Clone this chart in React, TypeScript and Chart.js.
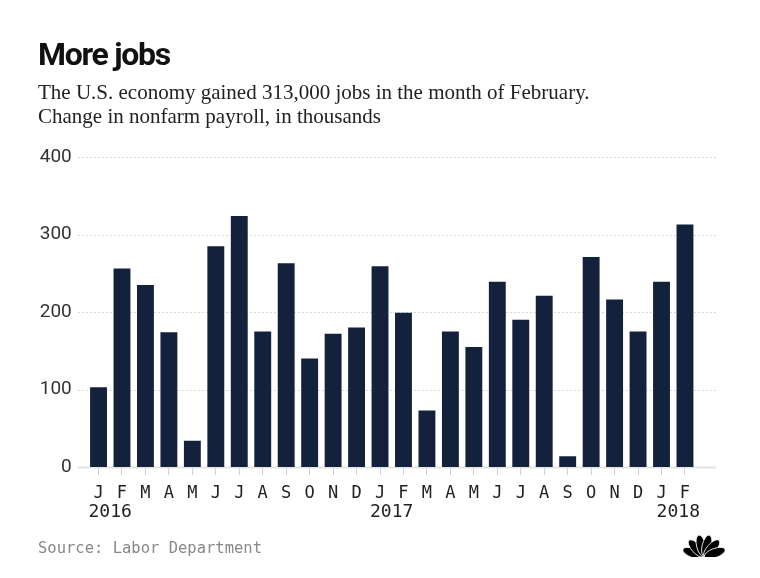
import React, { useEffect, useRef } from 'react';
import { Chart, registerables } from 'chart.js';

Chart.register(...registerables);

const months = ['J', 'F', 'M', 'A', 'M', 'J', 'J', 'A', 'S', 'O', 'N', 'D', 'J', 'F', 'M', 'A', 'M', 'J', 'J', 'A', 'S', 'O', 'N', 'D', 'J', 'F'];
const payrollChange = [103, 256, 235, 174, 34, 285, 324, 175, 263, 140, 172, 180, 259, 199, 73, 175, 155, 239, 190, 221, 14, 271, 216, 175, 239, 313];
const yearLabels = ['2016', '2017', '2018'];
const yearIndex = [0, 12, 25];
const yTicks = [0, 100, 200, 300, 400];

const title = 'More jobs';
const subtitle1 = 'The U.S. economy gained 313,000 jobs in the month of February.';
const subtitle2 = 'Change in nonfarm payroll, in thousands';
const source = 'Source: Labor Department';

const decor = {
  id: 'decor',
  beforeDatasetsDraw(chart: any) {
    const { ctx, chartArea, scales } = chart;
    const y = scales.y;
    ctx.save();
    yTicks.forEach((v) => {
      const py = Math.round(y.getPixelForValue(v)) + 0.5;
      ctx.beginPath();
      if (v === 0) {
        ctx.setLineDash([]);
        ctx.strokeStyle = '#e4e4e4';
        ctx.lineWidth = 2;
      } else {
        ctx.setLineDash([2, 2]);
        ctx.strokeStyle = '#d6d6d6';
        ctx.lineWidth = 1;
      }
      ctx.moveTo(chartArea.left - 9, py);
      ctx.lineTo(chartArea.right + 19, py);
      ctx.stroke();
    });
    ctx.restore();
  },
  afterDraw(chart: any) {
    const { ctx, chartArea, scales } = chart;
    const x = scales.x;
    ctx.save();
    ctx.font = '18px "DejaVu Sans Mono"';
    ctx.fillStyle = '#222';
    ctx.textBaseline = 'top';
    const ty = chartArea.bottom + 36;
    yearLabels.forEach((lab, i) => {
      const px = x.getPixelForValue(yearIndex[i]);
      if (i === yearLabels.length - 1) {
        ctx.textAlign = 'right';
        ctx.fillText(lab, px + 15, ty);
      } else {
        ctx.textAlign = 'left';
        ctx.fillText(lab, px - 10, ty);
      }
    });
    ctx.restore();
  },
};

function Peacock() {
  const angles = [-70, -42, -14, 14, 42, 70];
  return (
    <svg width="42" height="27" viewBox="0 0 42 27" style={{ position: 'absolute', left: 683, top: 532 }}>
      {angles.map((a, i) => (
        <ellipse
          key={i}
          cx={21}
          cy={13.5}
          rx={4.6}
          ry={11}
          transform={`rotate(${a} 21 25)`}
          fill="#000"
          stroke="#fff"
          strokeWidth={0.8}
        />
      ))}
      <rect x="0" y="25" width="42" height="2" fill="#fff" />
    </svg>
  );
}

export default function App() {
  const ref = useRef<HTMLCanvasElement | null>(null);

  useEffect(() => {
    if (!ref.current) return;
    const chart = new Chart(ref.current, {
      type: 'bar',
      data: {
        labels: months,
        datasets: [
          {
            data: payrollChange,
            backgroundColor: '#13213d',
            borderWidth: 0,
            categoryPercentage: 1,
            barPercentage: 0.72,
          },
        ],
      },
      options: {
        animation: false,
        responsive: false,
        maintainAspectRatio: false,
        layout: { padding: { left: 26.8, right: 63.3, top: 157, bottom: 51 } },
        plugins: { legend: { display: false }, tooltip: { enabled: false } },
        scales: {
          x: {
            offset: true,
            grid: {
              display: true,
              offset: false,
              drawOnChartArea: false,
              drawTicks: true,
              tickLength: 8,
              color: '#d0d0d0',
            },
            border: { display: false },
            ticks: {
              autoSkip: false,
              maxRotation: 0,
              padding: 8,
              color: '#222',
              font: { family: '"DejaVu Sans Mono"', size: 17 },
            },
            afterFit: (s: any) => {
              s.height = 60;
            },
          },
          y: {
            min: 0,
            max: 400,
            grid: { display: false, drawTicks: false },
            border: { display: false },
            ticks: {
              stepSize: 100,
              padding: 15,
              color: '#333',
              font: { family: 'Roboto', size: 19 },
            },
            afterFit: (s: any) => {
              s.width = 60;
            },
          },
        },
      },
      plugins: [decor],
    });
    return () => chart.destroy();
  }, []);

  return (
    <div style={{ position: 'absolute', left: 0, top: 0, width: 760, height: 578, background: '#fff', overflow: 'hidden' }}>
      <canvas ref={ref} width={760} height={578} style={{ position: 'absolute', left: 0, top: 0, width: 760, height: 578 }} />
      <div
        style={{
          position: 'absolute',
          left: 38,
          top: 34,
          fontFamily: 'Roboto, sans-serif',
          fontWeight: 700,
          fontSize: 32,
          letterSpacing: -1.3,
          color: '#111',
          lineHeight: '40px',
          whiteSpace: 'nowrap',
        }}
      >
        {title}
      </div>
      <div
        style={{
          position: 'absolute',
          left: 38,
          top: 80,
          fontFamily: '"Liberation Serif", serif',
          fontSize: 21,
          color: '#222',
          lineHeight: '24px',
          whiteSpace: 'nowrap',
        }}
      >
        <div>{subtitle1}</div>
        <div>{subtitle2}</div>
      </div>
      <div
        style={{
          position: 'absolute',
          left: 38,
          top: 538,
          fontFamily: '"DejaVu Sans Mono", monospace',
          fontSize: 15.5,
          color: '#888',
          lineHeight: '20px',
          whiteSpace: 'nowrap',
        }}
      >
        {source}
      </div>
      <Peacock />
    </div>
  );
}
